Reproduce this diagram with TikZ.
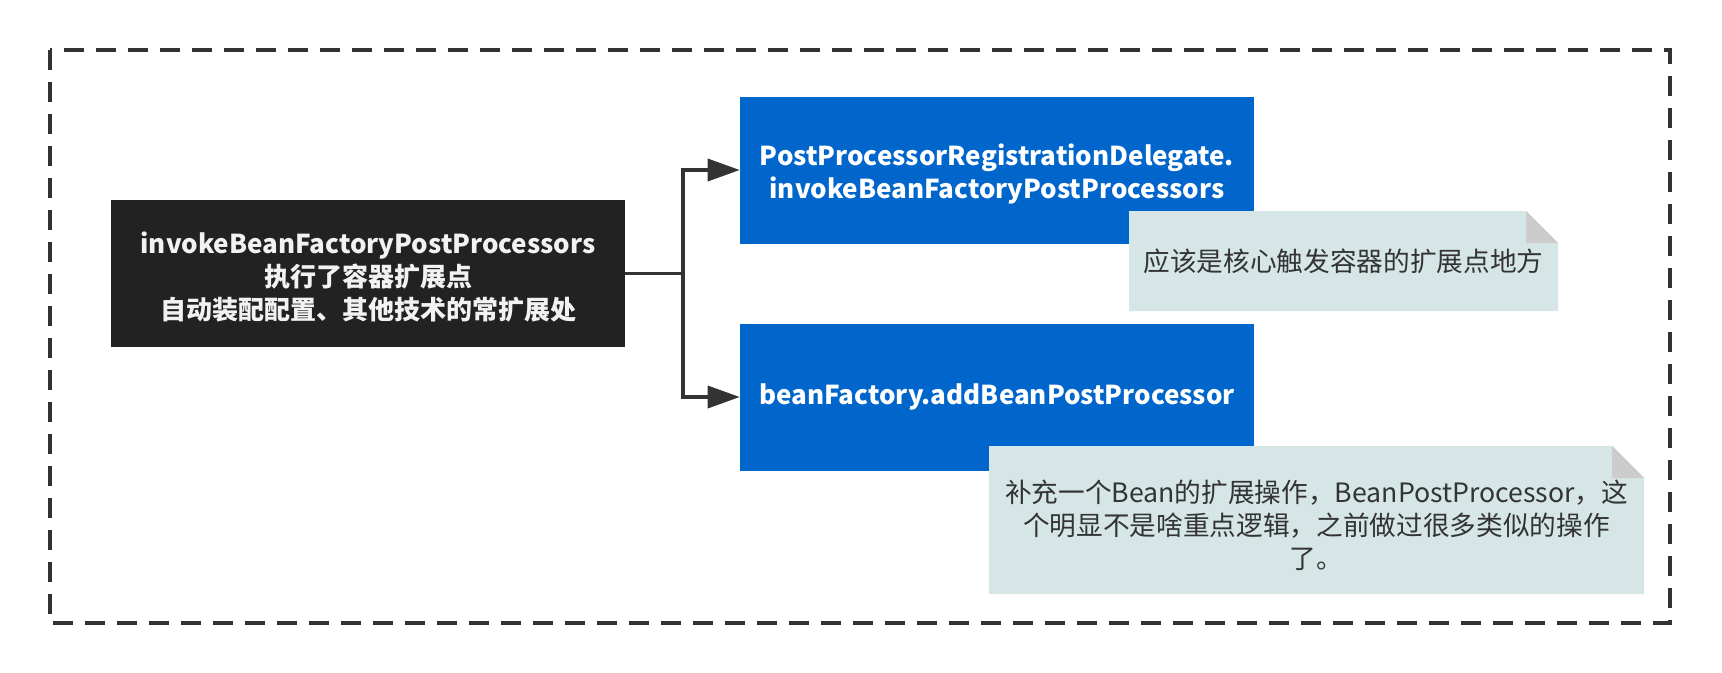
\documentclass[tikz,border=0pt]{standalone}
\usepackage{fontspec}
\setmainfont{Noto Sans CJK SC}
\usetikzlibrary{arrows.meta}
\definecolor{darkbox}{HTML}{222222}
\definecolor{bluebox}{HTML}{0066CC}
\definecolor{notebg}{HTML}{D6E6E6}
\definecolor{foldgray}{HTML}{CCCCCC}
\definecolor{linegray}{HTML}{333333}
% invisible strut that pushes multi-line text a bit down
\newcommand{\boxdrop}[1]{\rule{0pt}{#1}}
\tikzset{
  boxtext/.style={align=center, font=\bfseries\fontsize{19.5pt}{24.75pt}\selectfont},
  mainbox/.style={boxtext, fill=darkbox, text=white!95!black, minimum width=385.5pt, minimum height=110.25pt, inner sep=0pt},
  callbox/.style={boxtext, fill=bluebox, text=white, minimum width=385.5pt, minimum height=110.25pt, inner sep=0pt},
  notebox/.style={align=center, text=linegray, inner sep=0pt, font=\fontsize{20pt}{24.75pt}\selectfont,
    path picture={
      \fill[notebg] (path picture bounding box.north west) -- ([xshift=-24pt]path picture bounding box.north east)
        -- ([yshift=-24pt]path picture bounding box.north east) -- (path picture bounding box.south east)
        -- (path picture bounding box.south west) -- cycle;
      \fill[foldgray] ([xshift=-24pt]path picture bounding box.north east) |- ([yshift=-24pt]path picture bounding box.north east) -- cycle;
    }},
  conn/.style={draw=linegray, line width=2.6pt, -{Triangle[length=24pt,width=16.5pt]}}
}
\begin{document}
\begin{tikzpicture}[x=0.75pt, y=-0.75pt]
  \useasboundingbox (0,0) rectangle (1722,672);
  % Dashed frame
  \draw[linegray, line width=2.6pt, dash pattern=on 15pt off 9pt] (50,50) rectangle (1670,623);
  % Boxes
  \node[mainbox] (factory) at (368,273.5) {\boxdrop{22pt}invokeBeanFactoryPostProcessors\\执行了容器扩展点\\自动装配配置、其他技术的常扩展处};
  \node[callbox] (delegate) at (997,170) {\boxdrop{22pt}PostProcessorRegistrationDelegate.\\invokeBeanFactoryPostProcessors};
  \node[callbox] (addbpp) at (997,397) {beanFactory.addBeanPostProcessor};
  % Notes
  \node[notebox, minimum width=321.75pt, minimum height=75pt] (note1) at (1343.5,261) {应该是核心触发容器的扩展点地方};
  \node[notebox, minimum width=491.25pt, minimum height=111pt] (note2) at (1316.5,520)
    {\boxdrop{25pt}补充一个Bean的扩展操作，BeanPostProcessor，这\\个明显不是啥重点逻辑，之前做过很多类似的操作\\了。};
  % Connectors
  \coordinate (split) at (683,273.5);
  \draw[conn] (factory.east) -- (split) |- (delegate.west);
  \draw[conn] (split) |- (addbpp.west);
\end{tikzpicture}
\end{document}
